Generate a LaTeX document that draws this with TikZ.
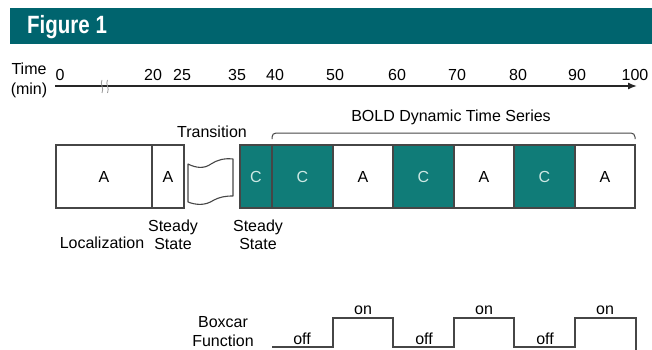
\documentclass[tikz,border=0pt]{standalone}
\usepackage{fontspec}
\usetikzlibrary{arrows.meta,calc}
\setmainfont{Liberation Sans}
\newfontfamily\figfont[FakeStretch=0.82]{Liberation Sans}
\definecolor{headteal}{RGB}{0,100,110}
\definecolor{boxteal}{RGB}{16,124,120}
\definecolor{ctext}{RGB}{205,232,228}
\definecolor{linegray}{RGB}{70,70,70}
\begin{document}
\begin{tikzpicture}[x=1pt,y=-1pt,
  txt/.style={font=\fontsize{16}{18}\selectfont, text=black, inner sep=0pt, align=center},
  blk/.style={draw=linegray, line width=1.1pt, fill=white, anchor=north west, inner sep=0pt, outer sep=0pt, minimum height=63pt, font=\fontsize{16}{18}\selectfont},
  tealblk/.style={blk, fill=boxteal, text=ctext},
  wave/.style={draw=linegray, line width=1.1pt, line cap=round, line join=round}
]
\useasboundingbox (0,0) rectangle (652,350);
% header
\fill[headteal] (10,8) rectangle (652,44);
\node[anchor=west, inner sep=0pt, text=white, font=\figfont\bfseries\fontsize{25}{28}\selectfont] (fig) at (27,27) {Figure 1};
% time axis
\node[txt] (tlab) at (29,69) {Time};
\node[txt] (mlab) at (29,90) {(min)};
\coordinate (ax0) at (55,86);
\coordinate (ax1) at (637,86);
\draw[line width=1.4pt, draw=black!85, -{Latex[length=9pt,width=7pt]}] (ax0) -- (ax1);
\draw[black!40, line width=0.8pt] (102,80) .. controls (99.5,84) and (104.5,88) .. (102,93);
\draw[black!40, line width=0.8pt] (107.5,80) .. controls (105,84) and (110,88) .. (107.5,93);
\foreach \v/\x in {0/60,20/153,25/182,35/237,40/275,50/335,60/397,70/457,80/518,90/577,100/635}
  \node[txt] (t\v) at (\x,75) {\v};
% boxes
\node[blk, minimum width=96pt] (b1) at (56,145) {A};
\node[blk, minimum width=32pt] (b2) at (152,145) {A};
\node[tealblk, minimum width=32pt] (c1) at (240,145) {C};
\node[tealblk, minimum width=61pt] (c2) at (272,145) {C};
\node[blk, minimum width=60pt] (a3) at (333,145) {A};
\node[tealblk, minimum width=61pt] (c4) at (393,145) {C};
\node[blk, minimum width=60pt] (a5) at (454,145) {A};
\node[tealblk, minimum width=61pt] (c6) at (514,145) {C};
\node[blk, minimum width=60pt] (a7) at (575,145) {A};
% transition flag
\draw[wave, fill=white] (188,164) .. controls (196,168) and (204,169) .. (211,164)
  .. controls (217,160) and (224,158) .. (233,159)
  -- (233,196)
  .. controls (225,196) and (220,197) .. (214,200)
  .. controls (205,206) and (196,205) .. (188,202) -- cycle;
\node[txt] (trans) at (212,132) {Transition};
% brace
\draw[draw=linegray, line width=1pt, rounded corners=4pt] ($(c2.north west)+(0,-6)$) -- ++(0,-6) -- (635,133) -- (635,139);
\node[txt] (bold) at (451,117) {BOLD Dynamic Time Series};
% lower labels
\node[txt] (loc) at (102,243) {Localization};
\node[txt] (ss1) at (173,235) {Steady\\State};
\node[txt] (ss2) at (258,235) {Steady\\State};
% boxcar
\node[txt, font=\fontsize{16}{19}\selectfont] (box) at (223,332) {Boxcar\\Function};
\draw[draw=linegray, line width=1.3pt] (272,347) -- (333,347) -- (333,318) -- (393,318) -- (393,347)
  -- (454,347) -- (454,318) -- (514,318) -- (514,347) -- (575,347) -- (575,318) -- (636,318) -- (636,350);
\foreach \x/\n in {363/1,484/2,605/3} \node[txt] (on\n) at (\x,310) {on};
\foreach \x/\n in {302/1,424/2,545/3} \node[txt] (off\n) at (\x,339) {off};
\end{tikzpicture}
\end{document}
